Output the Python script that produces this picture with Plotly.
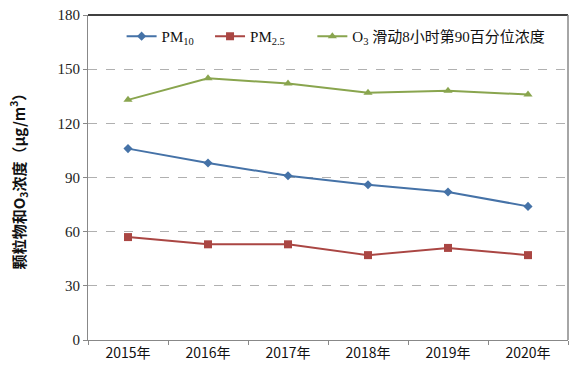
import plotly.graph_objects as go

years = ["2015年", "2016年", "2017年", "2018年", "2019年", "2020年"]
pm10 = [106, 98, 91, 86, 82, 74]
pm25 = [57, 53, 53, 47, 51, 47]
o3 = [133, 145, 142, 137, 138, 136]
names = ["PM<sub>10</sub>\u00a0\u00a0\u00a0", "PM<sub>2.5</sub>\u00a0\u00a0\u00a0\u00a0\u00a0\u00a0", "O<sub>3</sub> 滑动8小时第90百分位浓度"]
colors = ["#4572A7", "#AA4643", "#89A54E"]
symbols = ["diamond", "square", "triangle-up"]
sizes = [7, 8, 8]
y_title = "<b>颗粒物和O<sub>3</sub>浓度（μg/m<sup>3</sup>）</b>"

fig = go.Figure()
for vals, nm, c, s, sz in zip([pm10, pm25, o3], names, colors, symbols, sizes):
    fig.add_trace(go.Scatter(
        x=years, y=vals, name=nm, mode="lines+markers",
        line=dict(color=c, width=2),
        marker=dict(symbol=s, size=sz, color=c),
    ))

fig.update_layout(
    width=584, height=378,
    margin=dict(l=88, r=16, t=15, b=38),
    paper_bgcolor="white", plot_bgcolor="white",
    font=dict(family="Liberation Serif, Noto Sans CJK SC", size=13, color="#222"),
    showlegend=True,
    legend=dict(orientation="h", x=0.07, xanchor="left", y=0.985, yanchor="top",
                bgcolor="rgba(0,0,0,0)", font=dict(size=15, family="Liberation Serif, Noto Sans CJK SC", color="#111"),
                tracegroupgap=0),
    xaxis=dict(
        type="category", range=[-0.5, len(years) - 0.5],
        showgrid=False, showline=True, linecolor="#888", linewidth=1,
        ticks="outside", tickson="boundaries", ticklen=4, tickcolor="#888",
        tickfont=dict(family="Noto Sans CJK SC", size=14, color="#111"),
        automargin=False,
    ),
    yaxis=dict(
        range=[0, 180], tickvals=[0, 30, 60, 90, 120, 150, 180],
        showgrid=True, gridcolor="#b0b0b0", griddash="dash", gridwidth=1,
        showline=True, linecolor="#888", linewidth=1,
        ticks="outside", ticklen=4, tickcolor="#888",
        tickfont=dict(family="Liberation Serif", size=15, color="#222"),
        title=dict(text=y_title, font=dict(family="Noto Sans CJK SC", size=15, color="#111"), standoff=28),
        zeroline=False, automargin=False,
    ),
)
# plot-area frame: black top, gray right
fig.add_shape(type="line", xref="paper", yref="paper", x0=0, x1=1, y0=1, y1=1,
              line=dict(color="black", width=1.5))
fig.add_shape(type="line", xref="paper", yref="paper", x0=1, x1=1, y0=0, y1=1,
              line=dict(color="#888", width=1.5))

fig.write_html("out.html", config={"displayModeBar": False},
               post_script="document.body.style.margin='0';document.body.style.overflow='hidden';")
